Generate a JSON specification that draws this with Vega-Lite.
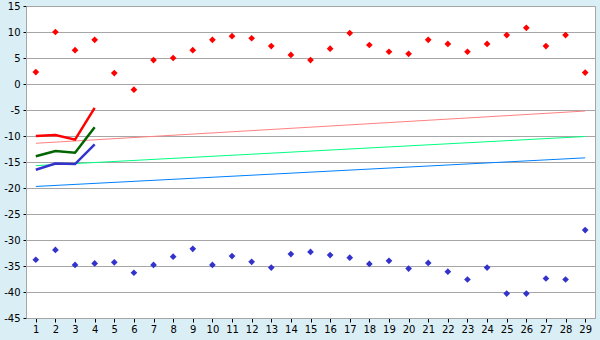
{
  "$schema": "https://vega.github.io/schema/vega-lite/v6.json",
  "width": 569,
  "height": 312,
  "autosize": "none",
  "padding": {"left": 26, "top": 6, "right": 5, "bottom": 22},
  "background": "#daeef5",
  "config": {
    "view": {"fill": "white", "stroke": "#a6a6a6", "strokeWidth": 1},
    "axis": {"labelFont": "DejaVu Sans", "labelFontSize": 10, "labelColor": "black", "title": null, "gridColor": "#a6a6a6", "gridOpacity": 1, "gridWidth": 1}
  },
  "datasets": {
    "pts": [
      {"day": 1, "max": 2.3, "min": -33.8},
      {"day": 2, "max": 10.0, "min": -31.9},
      {"day": 3, "max": 6.5, "min": -34.8},
      {"day": 4, "max": 8.5, "min": -34.5},
      {"day": 5, "max": 2.1, "min": -34.3},
      {"day": 6, "max": -1.1, "min": -36.3},
      {"day": 7, "max": 4.6, "min": -34.8},
      {"day": 8, "max": 5.0, "min": -33.2},
      {"day": 9, "max": 6.5, "min": -31.7},
      {"day": 10, "max": 8.5, "min": -34.8},
      {"day": 11, "max": 9.2, "min": -33.1},
      {"day": 12, "max": 8.8, "min": -34.2},
      {"day": 13, "max": 7.3, "min": -35.3},
      {"day": 14, "max": 5.6, "min": -32.7},
      {"day": 15, "max": 4.6, "min": -32.3},
      {"day": 16, "max": 6.8, "min": -32.9},
      {"day": 17, "max": 9.8, "min": -33.4},
      {"day": 18, "max": 7.5, "min": -34.6},
      {"day": 19, "max": 6.2, "min": -34.0},
      {"day": 20, "max": 5.8, "min": -35.5},
      {"day": 21, "max": 8.5, "min": -34.4},
      {"day": 22, "max": 7.7, "min": -36.1},
      {"day": 23, "max": 6.2, "min": -37.6},
      {"day": 24, "max": 7.7, "min": -35.3},
      {"day": 25, "max": 9.4, "min": -40.3},
      {"day": 26, "max": 10.8, "min": -40.3},
      {"day": 27, "max": 7.3, "min": -37.4},
      {"day": 28, "max": 9.4, "min": -37.6},
      {"day": 29, "max": 2.2, "min": -28.1}
    ],
    "thick": [
      {"day": 1, "series": "max", "value": -10.0},
      {"day": 2, "series": "max", "value": -9.8},
      {"day": 3, "series": "max", "value": -10.7},
      {"day": 4, "series": "max", "value": -4.6},
      {"day": 1, "series": "avg", "value": -13.9},
      {"day": 2, "series": "avg", "value": -12.9},
      {"day": 3, "series": "avg", "value": -13.2},
      {"day": 4, "series": "avg", "value": -8.3},
      {"day": 1, "series": "min", "value": -16.5},
      {"day": 2, "series": "min", "value": -15.3},
      {"day": 3, "series": "min", "value": -15.4},
      {"day": 4, "series": "min", "value": -11.6}
    ],
    "trend": [
      {"day": 1, "series": "max", "value": -11.4},
      {"day": 29, "series": "max", "value": -5.2},
      {"day": 1, "series": "avg", "value": -15.7},
      {"day": 29, "series": "avg", "value": -10.1},
      {"day": 1, "series": "min", "value": -19.7},
      {"day": 29, "series": "min", "value": -14.2}
    ]
  },
  "encoding": {
    "x": {
      "field": "day", "type": "quantitative",
      "scale": {"domain": [0.5, 29.5], "nice": false, "zero": false},
      "axis": {
        "values": [1,2,3,4,5,6,7,8,9,10,11,12,13,14,15,16,17,18,19,20,21,22,23,24,25,26,27,28,29],
        "tickCount": 40,
        "grid": false, "domainColor": "#a6a6a6", "tickColor": "black", "tickSize": 4,
        "labelPadding": 2, "labelExpr": "toString(datum.value)", "labelFlush": false, "labelOverlap": false
      }
    }
  },
  "layer": [
    {
      "data": {"name": "trend"},
      "mark": {"type": "line", "strokeWidth": 1},
      "encoding": {
        "y": {
          "field": "value", "type": "quantitative",
          "scale": {"domain": [-45, 15], "nice": false, "zero": false},
          "axis": {
            "values": [-45,-40,-35,-30,-25,-20,-15,-10,-5,0,5,10,15],
            "tickCount": 20,
            "grid": true, "gridColor": "#a6a6a6", "gridOpacity": 1,
            "domainColor": "#a6a6a6", "tickColor": "black", "tickSize": 3,
            "labelPadding": 3, "labelExpr": "toString(datum.value)",
            "labelOverlap": false, "labelFlush": false
          }
        },
        "color": {
          "field": "series", "type": "nominal",
          "scale": {"domain": ["max", "avg", "min"], "range": ["#ff8080", "#00ff80", "#0080ff"]},
          "legend": null
        }
      }
    },
    {
      "data": {"name": "thick"},
      "mark": {"type": "line", "strokeWidth": 2.5},
      "encoding": {
        "y": {"field": "value", "type": "quantitative"},
        "stroke": {
          "field": "series", "type": "nominal",
          "scale": {"domain": ["max", "avg", "min"], "range": ["#ff0000", "#006400", "#3333cc"]},
          "legend": null
        }
      }
    },
    {
      "data": {"name": "pts"},
      "mark": {"type": "point", "shape": "diamond", "filled": true, "size": 45, "color": "#ff0000", "opacity": 1},
      "encoding": {"y": {"field": "max", "type": "quantitative"}}
    },
    {
      "data": {"name": "pts"},
      "mark": {"type": "point", "shape": "diamond", "filled": true, "size": 45, "color": "#3333cc", "opacity": 1},
      "encoding": {"y": {"field": "min", "type": "quantitative"}}
    }
  ],
  "resolve": {"scale": {"color": "independent", "stroke": "independent"}}
}
